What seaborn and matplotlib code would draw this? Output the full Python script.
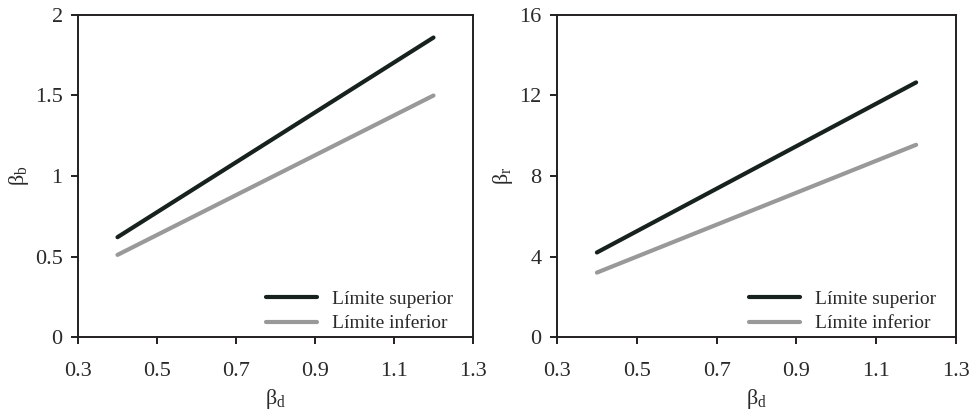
import matplotlib
matplotlib.use("Agg")
import matplotlib.pyplot as plt
import seaborn as sns
import pandas as pd

# Data
beta_d = [0.4, 1.2]
series_names = ["Límite superior", "Límite inferior"]
beta_b_sup = [0.62, 1.86]
beta_b_inf = [0.51, 1.50]
beta_r_sup = [4.2, 12.65]
beta_r_inf = [3.2, 9.55]
x_ticks = [0.3, 0.5, 0.7, 0.9, 1.1, 1.3]
y_ticks_b = [0, 0.5, 1, 1.5, 2]
y_ticks_b_labels = ["0", "0.5", "1", "1.5", "2"]
y_ticks_r = [0, 4, 8, 12, 16]
colors = ["#17211e", "#999999"]

sns.set_theme(style="white")
plt.rcParams["font.family"] = ["Liberation Serif", "DejaVu Serif"]
plt.rcParams["mathtext.fontset"] = "custom"
plt.rcParams["mathtext.rm"] = "Liberation Serif"

def make_df(sup, inf):
    return pd.DataFrame({
        "x": beta_d + beta_d,
        "y": sup + inf,
        "serie": [series_names[0]] * len(beta_d) + [series_names[1]] * len(beta_d),
    })

fig = plt.figure(figsize=(9.79, 4.18), dpi=100)
ax1 = fig.add_axes([78 / 979, 81 / 418, 395 / 979, 322 / 418])
ax2 = fig.add_axes([557 / 979, 81 / 418, 399 / 979, 322 / 418])

panels = [
    (ax1, make_df(beta_b_sup, beta_b_inf), y_ticks_b, y_ticks_b_labels, r"$\mathregular{β_b}$"),
    (ax2, make_df(beta_r_sup, beta_r_inf), y_ticks_r, [str(v) for v in y_ticks_r], r"$\mathregular{β_r}$"),
]

for ax, df, yt, ytl, ylab in panels:
    sns.lineplot(data=df, x="x", y="y", hue="serie", palette=colors, linewidth=3.0, ax=ax)
    ax.set_xlim(0.3, 1.3)
    ax.set_ylim(yt[0], yt[-1])
    ax.set_xticks(x_ticks)
    ax.set_xticklabels([f"{v:.1f}" for v in x_ticks])
    ax.set_yticks(yt)
    ax.set_yticklabels(ytl)
    ax.tick_params(axis="both", which="both", direction="out", length=5, width=1.4,
                   color="#231f20", labelsize=16, labelcolor="#2a2a2a",
                   left=True, bottom=True, top=False, right=False)
    ax.tick_params(axis="x", pad=13)
    ax.tick_params(axis="y", pad=6)
    for s in ax.spines.values():
        s.set_color("#231f20")
        s.set_linewidth(1.4)
    ax.set_xlabel(r"$\mathregular{β_d}$", fontsize=16, color="#2a2a2a", labelpad=4)
    ax.set_ylabel(ylab, fontsize=16, color="#2a2a2a", labelpad=3)
    leg = ax.legend(loc="lower right", bbox_to_anchor=(1 - 7 / 395, -8 / 322),
                    frameon=False, fontsize=14, handlelength=2.6,
                    handletextpad=0.8, labelspacing=0.35, borderaxespad=0.3, borderpad=0.35)
    for line in leg.get_lines():
        line.set_linewidth(3.0)
    for t in leg.get_texts():
        t.set_color("#2a2a2a")

fig.savefig("out.png", dpi=100)
